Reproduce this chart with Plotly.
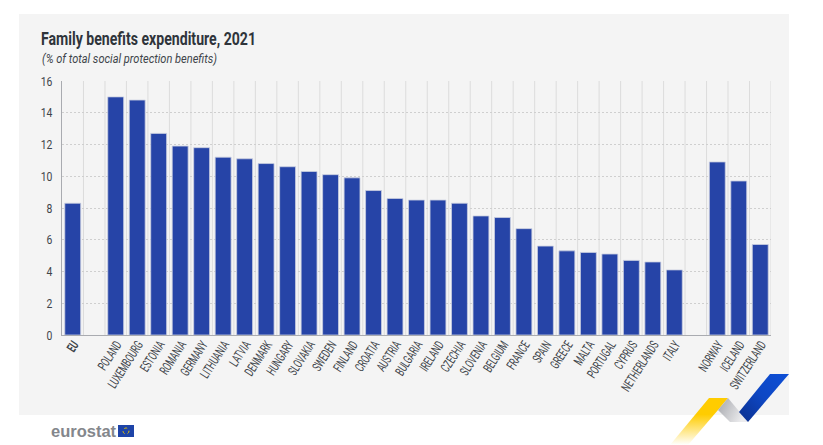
import base64
import plotly.graph_objects as go

categories = ["<b>EU</b>", " ", "POLAND", "LUXEMBOURG", "ESTONIA", "ROMANIA", "GERMANY", "LITHUANIA", "LATVIA",
              "DENMARK", "HUNGARY", "SLOVAKIA", "SWEDEN", "FINLAND", "CROATIA", "AUSTRIA", "BULGARIA",
              "IRELAND", "CZECHIA", "SLOVENIA", "BELGIUM", "FRANCE", "SPAIN", "GREECE", "MALTA",
              "PORTUGAL", "CYPRUS", "NETHERLANDS", "ITALY", "  ", "NORWAY", "ICELAND", "SWITZERLAND"]
values = [8.3, None, 15.0, 14.8, 12.7, 11.9, 11.8, 11.2, 11.1, 10.8, 10.6, 10.3, 10.1, 9.9, 9.1, 8.6, 8.5,
          8.5, 8.3, 7.5, 7.4, 6.7, 5.6, 5.3, 5.2, 5.1, 4.7, 4.6, 4.1, None, 10.9, 9.7, 5.7]
y_ticks = [0, 2, 4, 6, 8, 10, 12, 14, 16]

W, H = 823, 445
FONT = "Roboto, sans-serif"

def px(x):
    return x / W

def py(y):
    return 1 - y / H

svg = f'''<svg xmlns="http://www.w3.org/2000/svg" width="{W}" height="{H}" viewBox="0 0 {W} {H}">
<defs>
<linearGradient id="y" x1="0" y1="0" x2="0" y2="1"><stop offset="0.35" stop-color="#FFCC00"/><stop offset="1" stop-color="#FFFFFF"/></linearGradient>
<linearGradient id="g" x1="0" y1="0" x2="1" y2="0.4"><stop offset="0" stop-color="#A4A6AB"/><stop offset="1" stop-color="#ECECEE"/></linearGradient>
<linearGradient id="b" x1="1" y1="0" x2="0" y2="1"><stop offset="0" stop-color="#0E4FD6"/><stop offset="0.5" stop-color="#0E47C4"/><stop offset="1" stop-color="#0B2F8C"/></linearGradient>
</defs>
<polygon points="709,398 728,398 718,410 688,445 670,445" fill="url(#y)"/>
<polygon points="728,398 748,422 730,422 718,410" fill="url(#g)"/>
<polygon points="770,374 789,374 748,422 739,412" fill="url(#b)"/>
</svg>'''
swoosh = "data:image/svg+xml;base64," + base64.b64encode(svg.encode()).decode()

grid_shapes = [
    dict(type="line", xref="x", yref="paper", x0=k - 0.5, x1=k - 0.5, y0=py(335), y1=py(81),
         line=dict(color="#DCDCDC", width=1), layer="below")
    for k in range(1, len(categories) + 1)
]

fig = go.Figure(go.Bar(x=categories, y=values, width=0.74,
                       marker=dict(color="#2644A7", line=dict(color="#C9CEDF", width=0.8)),
                       hoverinfo="x+y"))

fig.update_layout(
    width=W, height=H, margin=dict(l=0, r=0, t=0, b=0),
    paper_bgcolor="white", plot_bgcolor="rgba(0,0,0,0)", showlegend=False,
    font=dict(family=FONT, color="#40444A"),
    xaxis=dict(domain=[px(62), px(771)], type="category", categoryorder="array", categoryarray=categories,
               range=[-0.5, len(categories) - 0.5],
               ticks="", tickangle=-57, automargin=False, ticklabelshift=1, ticklabelstandoff=-4,
               tickfont=dict(size=13, color="#40444A", family=FONT),
               showgrid=False,
               showline=True, linecolor="#A9ABB0", linewidth=1, zeroline=False),
    yaxis=dict(domain=[py(335), py(81)], range=[0, 16], tickvals=y_ticks, ticktext=[str(v) for v in y_ticks],
               ticks="", automargin=False, ticklabelstandoff=6, tickfont=dict(size=13, color="#40444A", family=FONT),
               showgrid=True, griddash="2px,2px", gridcolor="#CFCFCF", gridwidth=0.8,
               showline=True, linecolor="#A9ABB0", linewidth=1, zeroline=False),
    shapes=[
        dict(type="rect", xref="paper", yref="paper", x0=px(19), x1=px(789), y0=py(415), y1=py(14),
             fillcolor="#F4F4F4", line_width=0, layer="below"),
        *grid_shapes,
        dict(type="rect", xref="paper", yref="paper", x0=px(118), x1=px(134), y0=py(437), y1=py(425),
             fillcolor="#1E44A8", line_width=0),
        dict(type="circle", xref="paper", yref="paper", x0=px(123), x1=px(129), y0=py(434), y1=py(428),
             fillcolor="rgba(0,0,0,0)", line=dict(color="#E8C400", width=1, dash="dot")),
    ],
    annotations=[
        dict(text="<b>Family benefits expenditure, 2021</b>", xref="paper", yref="paper", x=px(40), y=py(38),
             xanchor="left", yanchor="middle", showarrow=False,
             font=dict(size=19, color="#2F343B", family=FONT)),
        dict(text="<i>(% of total social protection benefits)</i>", xref="paper", yref="paper", x=px(41), y=py(58),
             xanchor="left", yanchor="middle", showarrow=False,
             font=dict(size=12.5, color="#40444A", family=FONT)),
        dict(text="<b>eurostat</b>", xref="paper", yref="paper", x=px(49), y=py(430.5),
             xanchor="left", yanchor="middle", showarrow=False,
             font=dict(size=16.5, color="#84878C", family="Liberation Sans, Arial, sans-serif")),
    ],
    images=[dict(source=swoosh, xref="paper", yref="paper", x=0, y=1, sizex=1, sizey=1,
                 xanchor="left", yanchor="top", sizing="stretch", layer="above")],
)

condense = """
document.body.style.margin='0';
function squeeze(sel, f){document.querySelectorAll(sel).forEach(function(t){
  var n=t.getComputedTextLength(); if(n>0){t.setAttribute('lengthAdjust','spacingAndGlyphs');t.setAttribute('textLength',n*f);}
});}
squeeze('.xtick text',0.63);
squeeze('.ytick text',0.8);
function fit(t,len,left){
  t.setAttribute('lengthAdjust','spacingAndGlyphs');t.setAttribute('textLength',len);
  var d=left-t.getBoundingClientRect().left;
  t.setAttribute('transform','translate('+d+',0)');
}
document.querySelectorAll('.annotation-text').forEach(function(t){var s=t.textContent;
  if(s.indexOf('Family')==0){fit(t,215,41);}
  if(s.indexOf('(%')==0){fit(t,175,42);}
});
"""
fig.write_html("out.html", config={"displayModeBar": False}, post_script=condense)
